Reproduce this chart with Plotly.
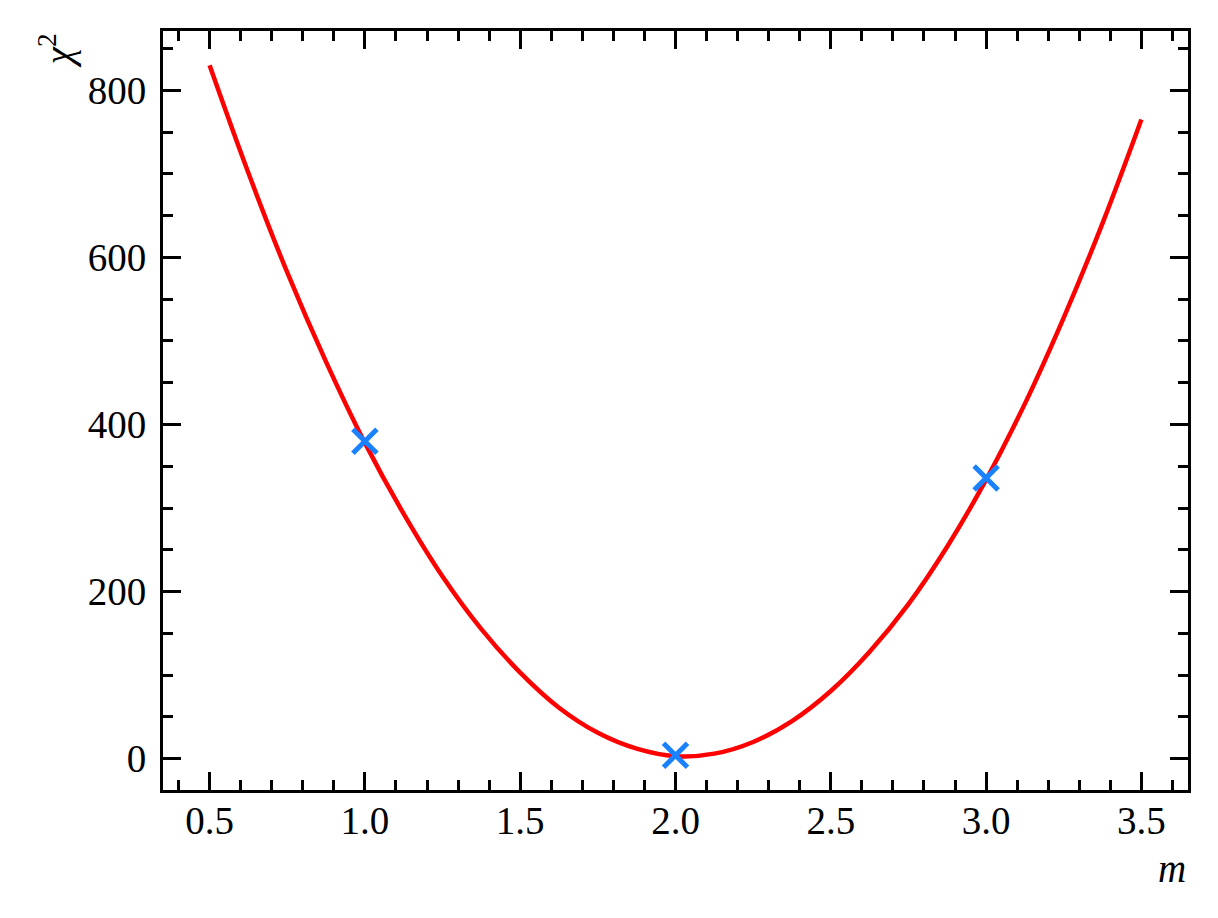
import plotly.graph_objects as go

# chi^2 curve
m_curve = [0.5, 0.625, 0.75, 0.875, 1.0, 1.125, 1.25, 1.375, 1.5, 1.625, 1.75, 1.875, 2.0,
           2.125, 2.25, 2.375, 2.5, 2.625, 2.75, 2.875, 3.0, 3.125, 3.25, 3.375, 3.5]
chi2_curve = [830, 701, 582, 475, 378, 293, 218, 155, 103, 61, 31, 12, 3,
              6, 20, 45, 81, 128, 185, 254, 334, 425, 528, 641, 765]

# sampled points
m_points = [1.0, 2.0, 3.0]
chi2_points = [380, 4, 336]

FONT = "Liberation Serif"

fig = go.Figure()
fig.add_trace(go.Scatter(x=m_curve, y=chi2_curve, mode="lines",
                         line=dict(color="#ff0000", width=4.5, shape="spline")))
fig.add_trace(go.Scatter(x=m_points, y=chi2_points, mode="markers",
                         marker=dict(symbol="x-thin", size=24, color="#1a82ff",
                                     line=dict(color="#1a82ff", width=5))))

axis_style = dict(showline=True, linecolor="black", linewidth=3, mirror="allticks",
                  ticks="inside", ticklen=18, tickwidth=3, tickcolor="black",
                  showgrid=False, zeroline=False,
                  tickfont=dict(family=FONT, size=39, color="black"))

fig.update_xaxes(range=[0.35, 3.65], dtick=0.5, tick0=0, tickformat=".1f", ticklabelstandoff=-6,
                 minor=dict(ticks="inside", ticklen=10, tickwidth=3, dtick=0.1, tick0=0,
                            tickcolor="black", showgrid=False),
                 **axis_style)
fig.update_yaxes(range=[-37.5, 871], dtick=200, tick0=0, ticklabelstandoff=6,
                 minor=dict(ticks="inside", ticklen=10, tickwidth=3, dtick=50, tick0=0,
                            tickcolor="black", showgrid=False),
                 **axis_style)

fig.add_annotation(text="<i>m</i>", xref="paper", yref="paper", x=1.0, y=-0.103,
                   xanchor="right", yanchor="middle", showarrow=False,
                   font=dict(family=FONT, size=39, color="black"))
fig.add_annotation(text="<i>χ</i><sup>2</sup>", xref="paper", yref="paper", x=-0.104, y=0.974,
                   xanchor="center", yanchor="middle", textangle=-90, showarrow=False,
                   font=dict(family=FONT, size=39, color="black"))

# page body adds an 8px offset, so the figure is shrunk to keep the plot area in place
fig.update_layout(width=1210, height=910, showlegend=False,
                  plot_bgcolor="white", paper_bgcolor="white",
                  margin=dict(l=155, r=30, t=23, b=128))

fig.write_html("out.html")
